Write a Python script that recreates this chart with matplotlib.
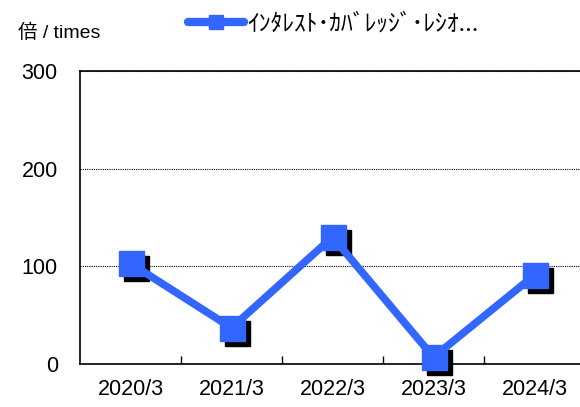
import matplotlib
matplotlib.use("Agg")
import matplotlib.pyplot as plt
import matplotlib.transforms as mtransforms
from matplotlib.lines import Line2D

# Data
periods = ["2020/3", "2021/3", "2022/3", "2023/3", "2024/3"]
ratio = [103, 37, 130, 7, 91]
yticks = [0, 100, 200, 300]
series_name = "ｲﾝﾀﾚｽﾄ･ｶﾊﾞﾚｯｼﾞ･ﾚｼｵ..."
unit_label = "倍 / times"

blue = "#3366FF"
jp = ["Noto Sans CJK JP", "DejaVu Sans"]
latin = ["Liberation Sans", "Noto Sans CJK JP", "DejaVu Sans"]

plt.rcParams["font.family"] = latin

fig = plt.figure(figsize=(5.8, 4.07), dpi=100)
ax = fig.add_axes([80 / 580, 43 / 407, 505 / 580, 293 / 407])

x = list(range(len(periods)))

# shadow markers, shifted right/down
shadow = mtransforms.offset_copy(ax.transData, fig=fig, x=5, y=-5, units="dots")
ax.plot(x, ratio, linestyle="none", marker="s", markersize=18, color="black",
        transform=shadow, zorder=2, clip_on=False)
ax.plot(x, ratio, color=blue, linewidth=5.5, zorder=3, clip_on=False)
ax.plot(x, ratio, linestyle="none", marker="s", markersize=18, color=blue,
        zorder=4, clip_on=False)

ax.set_xlim(-0.5, len(periods) - 0.5)
ax.set_ylim(0, 300)
ax.set_yticks(yticks)
ax.set_xticks(x)
ax.set_xticklabels(periods)
ax.set_xticks([i + 0.5 for i in x[:-1]], minor=True)

ax.tick_params(axis="x", which="major", length=0, pad=11, labelsize=15.5)
ax.tick_params(axis="x", which="minor", direction="in", length=6, width=1)
ax.tick_params(axis="y", length=0, pad=16, labelsize=15.5)

ax.yaxis.grid(True, color="black", linestyle=(0, (1, 1)), linewidth=0.8)
ax.set_axisbelow(True)

for s in ["left", "bottom", "top"]:
    ax.spines[s].set_linewidth(1.2)
ax.spines["right"].set_visible(False)

fig.text(18 / 580, 1 - 33 / 407, unit_label, fontsize=14, va="center", ha="left")

handle = Line2D([], [], color=blue, linewidth=6, marker="s", markersize=10,
                solid_capstyle="round")
leg = fig.legend([handle], [series_name], loc="center",
                 bbox_to_anchor=(333 / 580, 1 - 24 / 407), frameon=False,
                 handlelength=2.4, handletextpad=0.1,
                 prop={"family": jp, "size": 17})

fig.savefig("out.png", dpi=100)
